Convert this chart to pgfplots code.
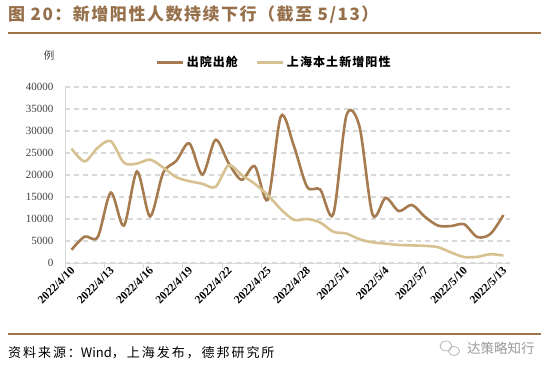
\documentclass[border=0pt]{standalone}
\usepackage{pgfplots}
\pgfplotsset{compat=1.18}
\usepackage{pgfplotstable}
\usepackage{fontspec}
\setmainfont{Liberation Serif}
\newfontfamily\cjk{Noto Sans CJK SC}
\newfontfamily\cjksp[LetterSpace=9]{Noto Sans CJK SC}
\newfontfamily\cjkwide[LetterSpace=15]{Noto Sans CJK SC}
\definecolor{darkline}{RGB}{166,123,79}
\definecolor{lightline}{RGB}{216,193,145}
\definecolor{titlec}{RGB}{150,112,75}
\definecolor{rulec}{RGB}{160,115,75}
\definecolor{gridc}{RGB}{217,217,217}
\definecolor{tickc}{RGB}{64,64,64}

\pgfplotstableread{
i dark light
0 3000 26000
1 6000 23100
2 5900 26200
3 16000 27700
4 8500 22800
5 20800 22600
6 10600 23500
7 20500 21700
8 23200 19500
9 27200 18600
10 20100 18000
11 28000 17300
12 22700 22200
13 18900 20000
14 22000 18000
15 14400 15400
16 33400 12200
17 26500 9800
18 17300 10000
19 16700 9200
20 11100 7100
21 33500 6700
22 31000 5400
23 11000 4700
24 14800 4400
25 11800 4100
26 13200 4000
27 10500 3900
28 8500 3600
29 8400 2400
30 8800 1350
31 5900 1400
32 6600 2000
33 10900 1700
}\datatable

\begin{document}
\begin{tikzpicture}
\path[use as bounding box] (0pt,0pt) rectangle (550pt,-370pt);
% title
\node[anchor=west, text=titlec, inner sep=0pt] at (8pt,-15pt)
  {\cjksp\bfseries\fontsize{17}{20}\selectfont 图 20：新增阳性人数持续下行（截至 5/13）};
\draw[rulec, line width=2pt] (8pt,-33pt) -- (541pt,-33pt);
% unit
\node[text=tickc, inner sep=0pt] at (49pt,-56pt) {\cjk\fontsize{10.5}{12}\selectfont 例};

\begin{axis}[
  at={(65pt,-263pt)}, anchor=south west,
  scale only axis, width=445pt, height=176pt,
  xmin=-0.5, xmax=33.5, ymin=0, ymax=40000,
  axis x line*=bottom, axis y line*=left,
  axis line style={draw=gridc, line width=1pt},
  x axis line style={-}, y axis line style={-},
  xtick={-0.5,2.5,...,32.5},
  xticklabels={2022/4/10,2022/4/13,2022/4/16,2022/4/19,2022/4/22,2022/4/25,2022/4/28,2022/5/1,2022/5/4,2022/5/7,2022/5/10,2022/5/13},
  xticklabel style={rotate=45, anchor=north east, inner sep=1pt, xshift=6pt, yshift=-1pt,
    font=\bfseries\fontsize{11.5}{13}\selectfont, text=black},
  tick align=outside, major tick length=5pt,
  xtick style={draw=gridc, line width=1pt},
  ytick={0,5000,...,40000},
  ytick style={draw=none},
  yticklabel style={font=\fontsize{11}{12}\selectfont, text=tickc, xshift=-3pt},
  /pgf/number format/assume math mode=true,
  /pgf/number format/1000 sep={},
  scaled y ticks=false,
  ymajorgrids,
  major grid style={draw=gridc, line width=1.2pt, dash pattern=on 5pt off 4pt},
  legend columns=2,
  legend style={at={(0.47,1.142)}, anchor=center, draw=none, fill=none,
    font=\cjksp\bfseries\fontsize{12}{14}\selectfont,
    /tikz/every even column/.append style={column sep=16pt}},
  legend image code/.code={\draw[#1, line width=3pt] (0pt,0pt) -- (26pt,0pt);},
  clip=false,
]
\addplot[darkline, line width=2.6pt, smooth, tension=0.5] table[x=i, y=dark] {\datatable};
\addlegendentry{出院出舱}
\addplot[lightline, line width=2.6pt, smooth, tension=0.5] table[x=i, y=light] {\datatable};
\addlegendentry{上海本土新增阳性}
\end{axis}

\draw[rulec, line width=2pt] (8pt,-334pt) -- (541pt,-334pt);
\node[anchor=west, inner sep=0pt] at (8pt,-353pt)
  {\fontsize{13}{15}\selectfont\cjkwide 资料来源：{\cjk Wind}，上海发布，德邦研究所};
% watermark
\draw[gray!60, line width=0.7pt] (446pt,-346pt) ellipse (6pt and 5pt);
\draw[gray!60, line width=0.7pt] (454pt,-351pt) ellipse (5.5pt and 4.5pt);
\node[anchor=west, inner sep=0pt, text=gray!80] at (467pt,-348pt)
  {\cjk\fontsize{13.5}{15}\selectfont 达策略知行};
\end{tikzpicture}
\end{document}
